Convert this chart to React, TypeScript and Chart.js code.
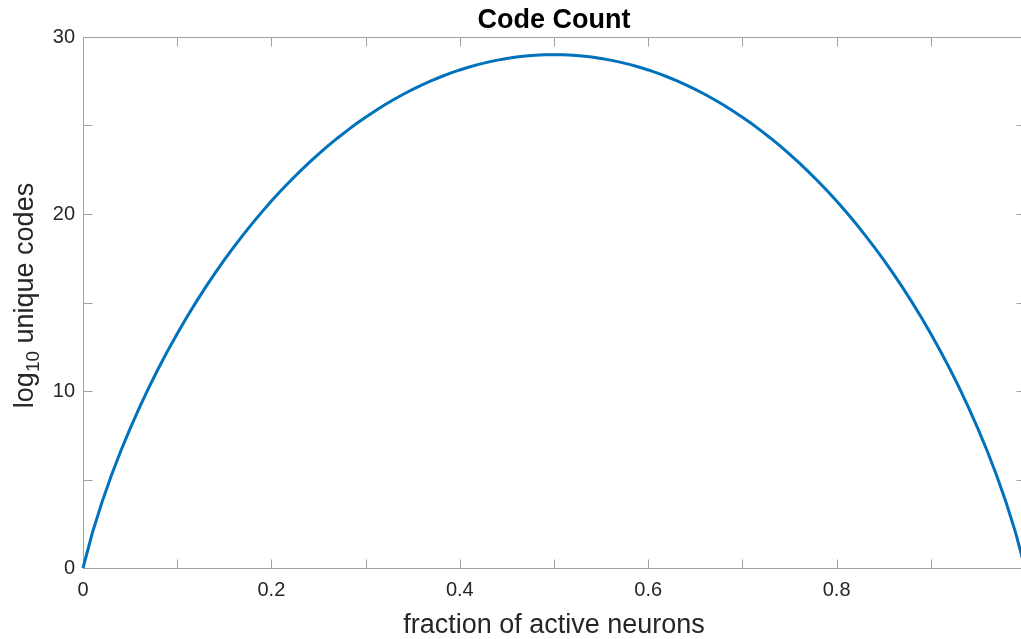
import React, { useEffect, useRef } from "react";
import { Chart, registerables } from "chart.js";

Chart.register(...registerables);

// ---- data ----
const FRACTIONS = [
  0, 0.01, 0.02, 0.03, 0.04, 0.05, 0.06, 0.07, 0.08, 0.09,
  0.1, 0.11, 0.12, 0.13, 0.14, 0.15, 0.16, 0.17, 0.18, 0.19,
  0.2, 0.21, 0.22, 0.23, 0.24, 0.25, 0.26, 0.27, 0.28, 0.29,
  0.3, 0.31, 0.32, 0.33, 0.34, 0.35, 0.36, 0.37, 0.38, 0.39,
  0.4, 0.41, 0.42, 0.43, 0.44, 0.45, 0.46, 0.47, 0.48, 0.49,
  0.5, 0.51, 0.52, 0.53, 0.54, 0.55, 0.56, 0.57, 0.58, 0.59,
  0.6, 0.61, 0.62, 0.63, 0.64, 0.65, 0.66, 0.67, 0.68, 0.69,
  0.7, 0.71, 0.72, 0.73, 0.74, 0.75, 0.76, 0.77, 0.78, 0.79,
  0.8, 0.81, 0.82, 0.83, 0.84, 0.85, 0.86, 0.87, 0.88, 0.89,
  0.9, 0.91, 0.92, 0.93, 0.94, 0.95, 0.96, 0.97, 0.98, 0.99,
  1,
];

const LOG_UNIQUE_CODES = [
  0, 2.0, 3.69461, 5.20871, 6.59342, 7.87672, 9.07629, 10.20432, 11.26971, 12.27926,
  13.2383, 14.15115, 15.02137, 15.85191, 16.6453, 17.40371, 18.12901, 18.82284, 19.48664, 20.1217,
  20.72916, 21.31003, 21.86525, 22.39562, 22.9019, 23.38477, 23.84486, 24.28272, 24.69888, 25.09381,
  25.46795, 25.82168, 26.15537, 26.46937, 26.76397, 27.03945, 27.29606, 27.53404, 27.75359, 27.95492,
  28.13819, 28.30355, 28.45115, 28.5811, 28.69352, 28.78849, 28.8661, 28.9264, 28.96943, 28.99524,
  29.00384, 28.99524, 28.96943, 28.9264, 28.8661, 28.78849, 28.69352, 28.5811, 28.45115, 28.30355,
  28.13819, 27.95492, 27.75359, 27.53404, 27.29606, 27.03945, 26.76397, 26.46937, 26.15537, 25.82168,
  25.46795, 25.09381, 24.69888, 24.28272, 23.84486, 23.38477, 22.9019, 22.39562, 21.86525, 21.31003,
  20.72916, 20.1217, 19.48664, 18.82284, 18.12901, 17.40371, 16.6453, 15.85191, 15.02137, 14.15115,
  13.2383, 12.27926, 11.26971, 10.20432, 9.07629, 7.87672, 6.59342, 5.20871, 3.69461, 2.0,
  0,
];

const X_TICKS = [0, 0.1, 0.2, 0.3, 0.4, 0.5, 0.6, 0.7, 0.8, 0.9, 1];
const X_LABELED = [0, 0.2, 0.4, 0.6, 0.8, 1];
const Y_TICKS = [0, 5, 10, 15, 20, 25, 30];
const Y_LABELED = [0, 10, 20, 30];

const TITLE = "Code Count";
const X_TITLE = "fraction of active neurons";
const Y_TITLE_MAIN = "log";
const Y_TITLE_SUB = "10";
const Y_TITLE_REST = " unique codes";

// ---- styling ----
const CANVAS_W = 1045;
const CANVAS_H = 639;
const FONT = "'Liberation Sans', Arial, Helvetica, sans-serif";
const AXIS_GRAY = "#a3a3a3";
const TEXT_COLOR = "#262626";
const LINE_COLOR = "#0072BD";
const TICK_LEN = 9;

const near = (list: number[], v: number) => list.some((t) => Math.abs(t - v) < 1e-6);

const matlabAxes = {
  id: "matlabAxes",
  beforeDatasetsDraw(chart: any) {
    const { ctx, chartArea: a, scales } = chart;
    ctx.save();
    ctx.strokeStyle = AXIS_GRAY;
    ctx.lineWidth = 1;
    const L = Math.round(a.left) + 0.5;
    const R = Math.round(a.right) + 0.5;
    const T = Math.round(a.top) + 0.5;
    const B = Math.round(a.bottom) + 0.5;
    ctx.beginPath();
    ctx.rect(L, T, R - L, B - T);
    ctx.stroke();
    ctx.beginPath();
    X_TICKS.forEach((v) => {
      const px = Math.round(scales.x.getPixelForValue(v)) + 0.5;
      ctx.moveTo(px, B);
      ctx.lineTo(px, B - TICK_LEN);
      ctx.moveTo(px, T);
      ctx.lineTo(px, T + TICK_LEN);
    });
    Y_TICKS.forEach((v) => {
      const py = Math.round(scales.y.getPixelForValue(v)) + 0.5;
      ctx.moveTo(L, py);
      ctx.lineTo(L + TICK_LEN, py);
      ctx.moveTo(R, py);
      ctx.lineTo(R - TICK_LEN, py);
    });
    ctx.stroke();
    ctx.restore();
  },
  afterDraw(chart: any) {
    const { ctx, chartArea: a } = chart;
    const cx = (a.left + a.right) / 2;
    const cy = (a.top + a.bottom) / 2;
    ctx.save();
    // title
    ctx.fillStyle = "#000000";
    ctx.font = `bold 27px ${FONT}`;
    ctx.textAlign = "center";
    ctx.textBaseline = "alphabetic";
    ctx.fillText(TITLE, cx, 28);
    // x title
    ctx.fillStyle = TEXT_COLOR;
    ctx.font = `27px ${FONT}`;
    ctx.fillText(X_TITLE, cx, 633);
    // y title with subscript
    ctx.translate(32.5, cy - 7);
    ctx.rotate(-Math.PI / 2);
    ctx.textAlign = "left";
    ctx.font = `27px ${FONT}`;
    const w1 = ctx.measureText(Y_TITLE_MAIN).width;
    const w3 = ctx.measureText(Y_TITLE_REST).width;
    ctx.font = `19px ${FONT}`;
    const w2 = ctx.measureText(Y_TITLE_SUB).width;
    const start = -(w1 + w2 + w3) / 2;
    ctx.font = `27px ${FONT}`;
    ctx.fillText(Y_TITLE_MAIN, start, 0);
    ctx.font = `19px ${FONT}`;
    ctx.fillText(Y_TITLE_SUB, start + w1, 6);
    ctx.font = `27px ${FONT}`;
    ctx.fillText(Y_TITLE_REST, start + w1 + w2, 0);
    ctx.restore();
  },
};

export default function App() {
  const canvasRef = useRef<HTMLCanvasElement | null>(null);

  useEffect(() => {
    const canvas = canvasRef.current;
    if (!canvas) return;
    const chart = new Chart(canvas, {
      type: "line",
      data: {
        datasets: [
          {
            data: FRACTIONS.map((x, i) => ({ x, y: LOG_UNIQUE_CODES[i] })),
            borderColor: LINE_COLOR,
            borderWidth: 3,
            pointRadius: 0,
            tension: 0,
            fill: false,
            clip: false as any,
          },
        ],
      },
      options: {
        responsive: false,
        animation: false,
        devicePixelRatio: 1,
        layout: { padding: { top: 37, left: 0, right: CANVAS_W - 1025, bottom: 0 } },
        plugins: {
          legend: { display: false },
          title: { display: false },
          tooltip: { enabled: false },
        },
        scales: {
          x: {
            type: "linear",
            min: 0,
            max: 1,
            afterBuildTicks: (s: any) => {
              s.ticks = X_TICKS.map((value) => ({ value }));
            },
            afterFit: (s: any) => {
              s.height = CANVAS_H - 568;
            },
            grid: { display: false, drawTicks: false },
            border: { display: false },
            ticks: {
              autoSkip: false,
              maxRotation: 0,
              padding: 10,
              color: TEXT_COLOR,
              font: { family: FONT, size: 20 },
              callback: (v: any) => (near(X_LABELED, Number(v)) ? String(Math.round(Number(v) * 10) / 10) : ""),
            },
          },
          y: {
            type: "linear",
            min: 0,
            max: 30,
            afterBuildTicks: (s: any) => {
              s.ticks = Y_TICKS.map((value) => ({ value }));
            },
            afterFit: (s: any) => {
              s.width = 83;
            },
            grid: { display: false, drawTicks: false },
            border: { display: false },
            ticks: {
              autoSkip: false,
              padding: 8,
              color: TEXT_COLOR,
              font: { family: FONT, size: 20 },
              callback: (v: any) => (near(Y_LABELED, Number(v)) ? String(Math.round(Number(v))) : ""),
            },
          },
        },
      },
      plugins: [matlabAxes],
    });
    return () => chart.destroy();
  }, []);

  return (
    <div
      style={{
        position: "absolute",
        left: 0,
        top: 0,
        width: 1021,
        height: 639,
        overflow: "hidden",
        background: "#ffffff",
      }}
    >
      <canvas
        ref={canvasRef}
        width={CANVAS_W}
        height={CANVAS_H}
        style={{ display: "block", width: CANVAS_W, height: CANVAS_H }}
      />
    </div>
  );
}
